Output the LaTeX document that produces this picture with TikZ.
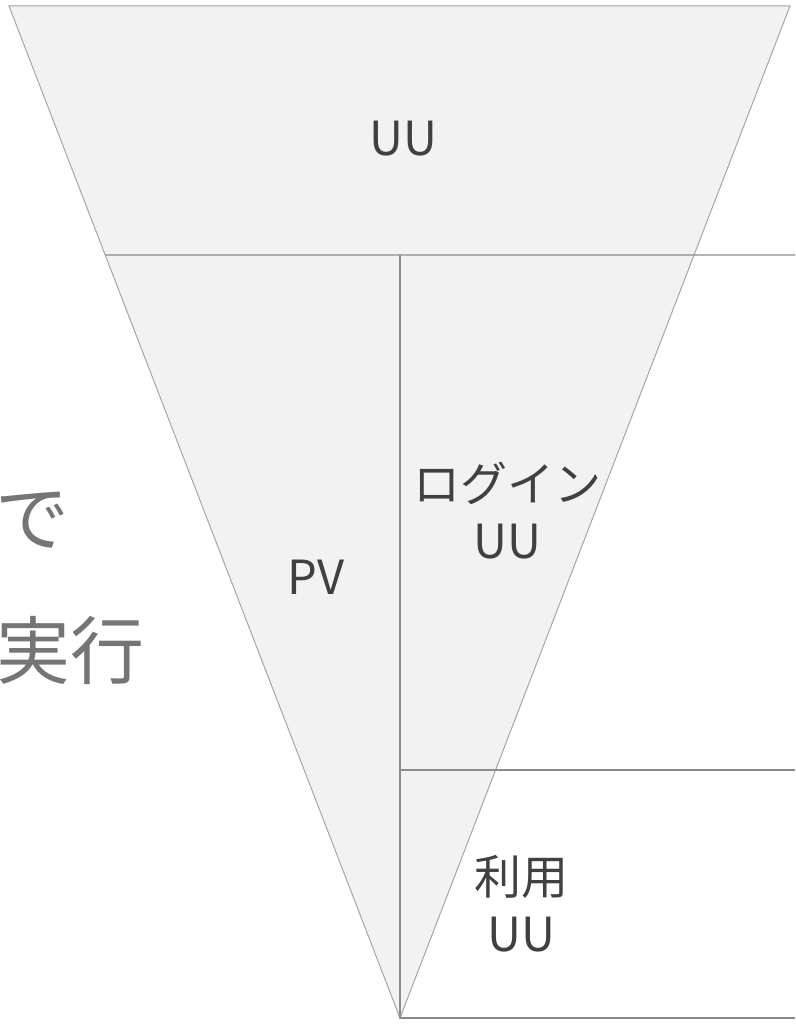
\documentclass[tikz,border=0pt]{standalone}
\usepackage{fontspec}
\setmainfont{Noto Sans CJK JP}
\usetikzlibrary{calc}
\definecolor{funnelfill}{HTML}{F2F2F2}
\definecolor{funnelline}{HTML}{A6A6A6}
\definecolor{rulegray}{HTML}{8C8C8C}
\definecolor{labelgray}{HTML}{404040}
\definecolor{sidegray}{HTML}{757575}
\tikzset{
  lab/.style={text=labelgray, align=center, font=\fontsize{47}{57}\selectfont},
  side/.style={text=sidegray, anchor=east, font=\fontsize{74}{80}\selectfont},
  rule/.style={draw=rulegray, line width=1.2pt}
}
\begin{document}
\begin{tikzpicture}[x=1pt, y=-1pt]
\useasboundingbox (0,0) rectangle (795,1024);
\coordinate (tl) at (9,6);
\coordinate (tr) at (790,6);
\coordinate (apex) at (400,1018);
\fill[funnelfill, draw=funnelline, line width=1pt] (tl)--(tr)--(apex)--cycle;

\coordinate (l1) at ($(tl)!0.246!(apex)$);
\coordinate (r1) at (795,255);
\coordinate (v1) at (400,255);
\coordinate (v2) at (400,770);
\coordinate (r2) at (795,770);
\coordinate (r3) at (795,1018);
\draw[rule] (l1)--(r1);
\draw[rule] (v1)--(apex)--(r3);
\draw[rule] (v2)--(r2);

\node[lab] (uu) at (403,139) {UU};
\node[lab] (pv) at (316,577) {PV};
\node[lab] (login) at (507,511) {ログイン\\UU};
\node[lab] (riyou) at (521,904) {利用\\UU};

\node[side] (de) at (73,520) {で};
\node[side] (jikko) at (148,650) {実行};
\end{tikzpicture}
\end{document}
